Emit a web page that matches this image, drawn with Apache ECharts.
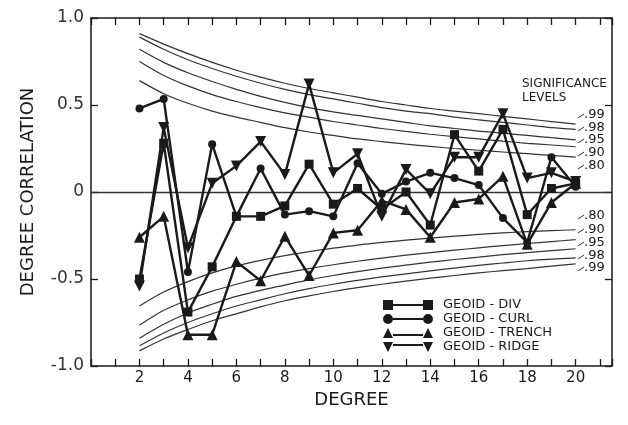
<!DOCTYPE html>
<html>
<head>
<meta charset="utf-8">
<script src="https://cdn.jsdelivr.net/npm/echarts@6/dist/echarts.min.js"></script>
<style>
  html, body { margin: 0; padding: 0; background: #fff; }
  #chart { width: 628px; height: 425px; }
</style>
</head>
<body>
<div id="chart"></div>
<script>
// degree correlations
const degrees = [2, 3, 4, 5, 6, 7, 8, 9, 10, 11, 12, 13, 14, 15, 16, 17, 18, 19, 20];
const geoidDiv = [-0.50, 0.28, -0.69, -0.43, -0.14, -0.14, -0.08, 0.16, -0.07, 0.02, -0.10, 0.00, -0.19, 0.33, 0.12, 0.36, -0.13, 0.02, 0.05];
const geoidCurl = [0.48, 0.535, -0.46, 0.275, -0.14, 0.135, -0.13, -0.11, -0.14, 0.165, -0.01, 0.06, 0.11, 0.08, 0.04, -0.15, -0.29, 0.20, 0.03];
const geoidTrench = [-0.26, -0.14, -0.82, -0.82, -0.40, -0.51, -0.255, -0.48, -0.235, -0.22, -0.05, -0.10, -0.26, -0.06, -0.04, 0.09, -0.30, -0.06, 0.05];
const geoidRidge = [-0.54, 0.37, -0.32, 0.05, 0.15, 0.29, 0.10, 0.62, 0.11, 0.22, -0.14, 0.13, -0.01, 0.20, 0.20, 0.45, 0.08, 0.11, 0.06];

// significance curves, read at each degree
const up99 = [0.91, 0.85, 0.795, 0.745, 0.70, 0.66, 0.625, 0.595, 0.57, 0.545, 0.52, 0.50, 0.48, 0.465, 0.45, 0.435, 0.42, 0.405, 0.39];
const up98 = [0.89, 0.82, 0.76, 0.71, 0.665, 0.625, 0.59, 0.56, 0.535, 0.51, 0.485, 0.465, 0.45, 0.43, 0.415, 0.40, 0.385, 0.37, 0.36];
const up95 = [0.82, 0.745, 0.685, 0.635, 0.59, 0.55, 0.515, 0.485, 0.46, 0.44, 0.42, 0.40, 0.38, 0.365, 0.35, 0.338, 0.325, 0.312, 0.30];
const up90 = [0.75, 0.67, 0.61, 0.56, 0.52, 0.485, 0.455, 0.43, 0.405, 0.385, 0.365, 0.348, 0.332, 0.318, 0.305, 0.292, 0.28, 0.27, 0.26];
const up80 = [0.64, 0.565, 0.51, 0.465, 0.43, 0.40, 0.37, 0.345, 0.325, 0.305, 0.29, 0.275, 0.262, 0.25, 0.24, 0.23, 0.22, 0.21, 0.20];
const lo80 = [-0.655, -0.575, -0.515, -0.465, -0.425, -0.393, -0.366, -0.343, -0.323, -0.305, -0.29, -0.277, -0.265, -0.254, -0.244, -0.235, -0.228, -0.222, -0.217];
const lo90 = [-0.766, -0.68, -0.62, -0.57, -0.53, -0.495, -0.465, -0.44, -0.418, -0.398, -0.38, -0.363, -0.348, -0.334, -0.321, -0.308, -0.296, -0.285, -0.274];
const lo95 = [-0.84, -0.76, -0.695, -0.645, -0.60, -0.565, -0.535, -0.505, -0.48, -0.458, -0.438, -0.42, -0.403, -0.388, -0.374, -0.36, -0.348, -0.337, -0.326];
const lo98 = [-0.884, -0.81, -0.75, -0.70, -0.655, -0.62, -0.585, -0.555, -0.53, -0.508, -0.488, -0.47, -0.453, -0.437, -0.422, -0.408, -0.395, -0.386, -0.379];
const lo99 = [-0.913, -0.845, -0.79, -0.74, -0.70, -0.66, -0.625, -0.597, -0.572, -0.55, -0.53, -0.512, -0.495, -0.48, -0.465, -0.452, -0.44, -0.426, -0.413];

const sigLabels = ['.99', '.98', '.95', '.90', '.80'];
const yTickText = { '1': '1.0', '0.5': '0.5', '0': '0', '-0.5': '-0.5', '-1': '-1.0' };

const ink = '#1a1a1a';
const font = 'DejaVu Sans';

const pair = (xs, ys) => xs.map((x, i) => [x, ys[i]]);

function curve (name, ys) {
  return {
    name: name,
    type: 'line',
    data: pair(degrees, ys),
    smooth: 0.3,
    showSymbol: false,
    lineStyle: { color: '#333', width: 1.2 },
    z: 2,
    silent: true
  };
}

function dataSeries (name, ys, symbol, size, rotate) {
  return {
    name: name,
    type: 'line',
    data: pair(degrees, ys),
    symbol: symbol,
    symbolSize: size,
    symbolRotate: rotate || 0,
    showAllSymbol: true,
    lineStyle: { color: ink, width: 2.4 },
    itemStyle: { color: ink },
    z: 5
  };
}

const chart = echarts.init(document.getElementById('chart'));

const icons = {
  div: 'path://M0,0H10V10H0ZM10,4H40V6H10ZM40,0H50V10H40Z',
  curl: 'path://M0,5A5,5 0 1,1 10,5A5,5 0 1,1 0,5ZM10,4H40V6H10ZM40,5A5,5 0 1,1 50,5A5,5 0 1,1 40,5Z',
  trench: 'path://M0,10L5,0L10,10ZM10,6H40V8H10ZM40,10L45,0L50,10Z',
  ridge: 'path://M0,0L10,0L5,10ZM10,2H40V4H10ZM40,0L50,0L45,10Z'
};

// labels for the significance levels, and little leader ticks
const graphics = [
  { type: 'text', left: 522, top: 78, style: { text: 'SIGNIFICANCE', font: '12px ' + font, fill: ink } },
  { type: 'text', left: 522, top: 92, style: { text: 'LEVELS', font: '12px ' + font, fill: ink } }
];
const upLabelY = [115, 128, 140, 153, 166];
const loLabelY = [268, 256, 243, 230, 216];
sigLabels.forEach((t, i) => {
  graphics.push({ type: 'text', left: 584, top: upLabelY[i] - 7, style: { text: t, font: '13px ' + font, fill: ink } });
  graphics.push({ type: 'text', left: 584, top: loLabelY[i] - 7, style: { text: t, font: '13px ' + font, fill: ink } });
  graphics.push({ type: 'line', shape: { x1: 578, y1: upLabelY[i] + 3, x2: 584, y2: upLabelY[i] - 1 }, style: { stroke: '#333', lineWidth: 1 } });
  graphics.push({ type: 'line', shape: { x1: 578, y1: loLabelY[i] + 3, x2: 584, y2: loLabelY[i] - 1 }, style: { stroke: '#333', lineWidth: 1 } });
});

const axisLine = { show: true, onZero: false, lineStyle: { color: ink, width: 1.5 } };
const tick = { inside: true, length: 7, lineStyle: { color: ink, width: 1.3 } };

chart.setOption({
  animation: false,
  backgroundColor: '#fff',
  grid: { left: 91, right: 16, top: 18, bottom: 59 },
  xAxis: [
    {
      type: 'value',
      min: 0,
      max: 21.5,
      interval: 1,
      position: 'bottom',
      name: 'DEGREE',
      nameLocation: 'middle',
      nameGap: 22,
      nameTextStyle: { fontFamily: font, fontSize: 18, color: ink },
      axisLine: axisLine,
      axisTick: tick,
      axisLabel: {
        fontFamily: font,
        fontSize: 15,
        color: ink,
        margin: 5,
        formatter: v => (v >= 2 && v <= 20 && v % 2 === 0) ? String(v) : ''
      },
      splitLine: { show: false }
    },
    {
      type: 'value',
      min: 0,
      max: 21.5,
      interval: 1,
      position: 'top',
      axisLine: axisLine,
      axisTick: tick,
      axisLabel: { show: false },
      splitLine: { show: false }
    }
  ],
  yAxis: [
    {
      type: 'value',
      min: -1,
      max: 1,
      interval: 0.5,
      position: 'left',
      name: 'DEGREE CORRELATION',
      nameLocation: 'middle',
      nameGap: 54,
      nameTextStyle: { fontFamily: font, fontSize: 18, color: ink },
      axisLine: axisLine,
      axisTick: tick,
      axisLabel: {
        fontFamily: font,
        fontSize: 17,
        color: '#333',
        margin: 7,
        formatter: v => yTickText[String(v)] || ''
      },
      splitLine: { show: false }
    },
    {
      type: 'value',
      min: -1,
      max: 1,
      interval: 0.5,
      position: 'right',
      axisLine: axisLine,
      axisTick: tick,
      axisLabel: { show: false },
      splitLine: { show: false }
    }
  ],
  legend: {
    orient: 'vertical',
    left: 378,
    top: 293,
    itemWidth: 50,
    itemHeight: 10,
    itemGap: 0,
    textStyle: { fontFamily: font, fontSize: 13, color: ink, lineHeight: 14, padding: [0, 0, 0, 5] },
    data: [
      { name: 'GEOID - DIV', icon: icons.div },
      { name: 'GEOID - CURL', icon: icons.curl },
      { name: 'GEOID - TRENCH', icon: icons.trench },
      { name: 'GEOID - RIDGE', icon: icons.ridge }
    ]
  },
  graphic: graphics,
  series: [
    Object.assign(curve('up99', up99), {
      markLine: {
        silent: true,
        symbol: ['none', 'none'],
        label: { show: false },
        lineStyle: { color: '#333', width: 1.3, type: 'solid' },
        data: [{ yAxis: 0 }]
      }
    }),
    curve('up98', up98),
    curve('up95', up95),
    curve('up90', up90),
    curve('up80', up80),
    curve('lo80', lo80),
    curve('lo90', lo90),
    curve('lo95', lo95),
    curve('lo98', lo98),
    curve('lo99', lo99),
    dataSeries('GEOID - DIV', geoidDiv, 'rect', 9),
    dataSeries('GEOID - CURL', geoidCurl, 'circle', 8),
    dataSeries('GEOID - TRENCH', geoidTrench, 'triangle', 11),
    dataSeries('GEOID - RIDGE', geoidRidge, 'triangle', 11, 180)
  ]
});
</script>
</body>
</html>
